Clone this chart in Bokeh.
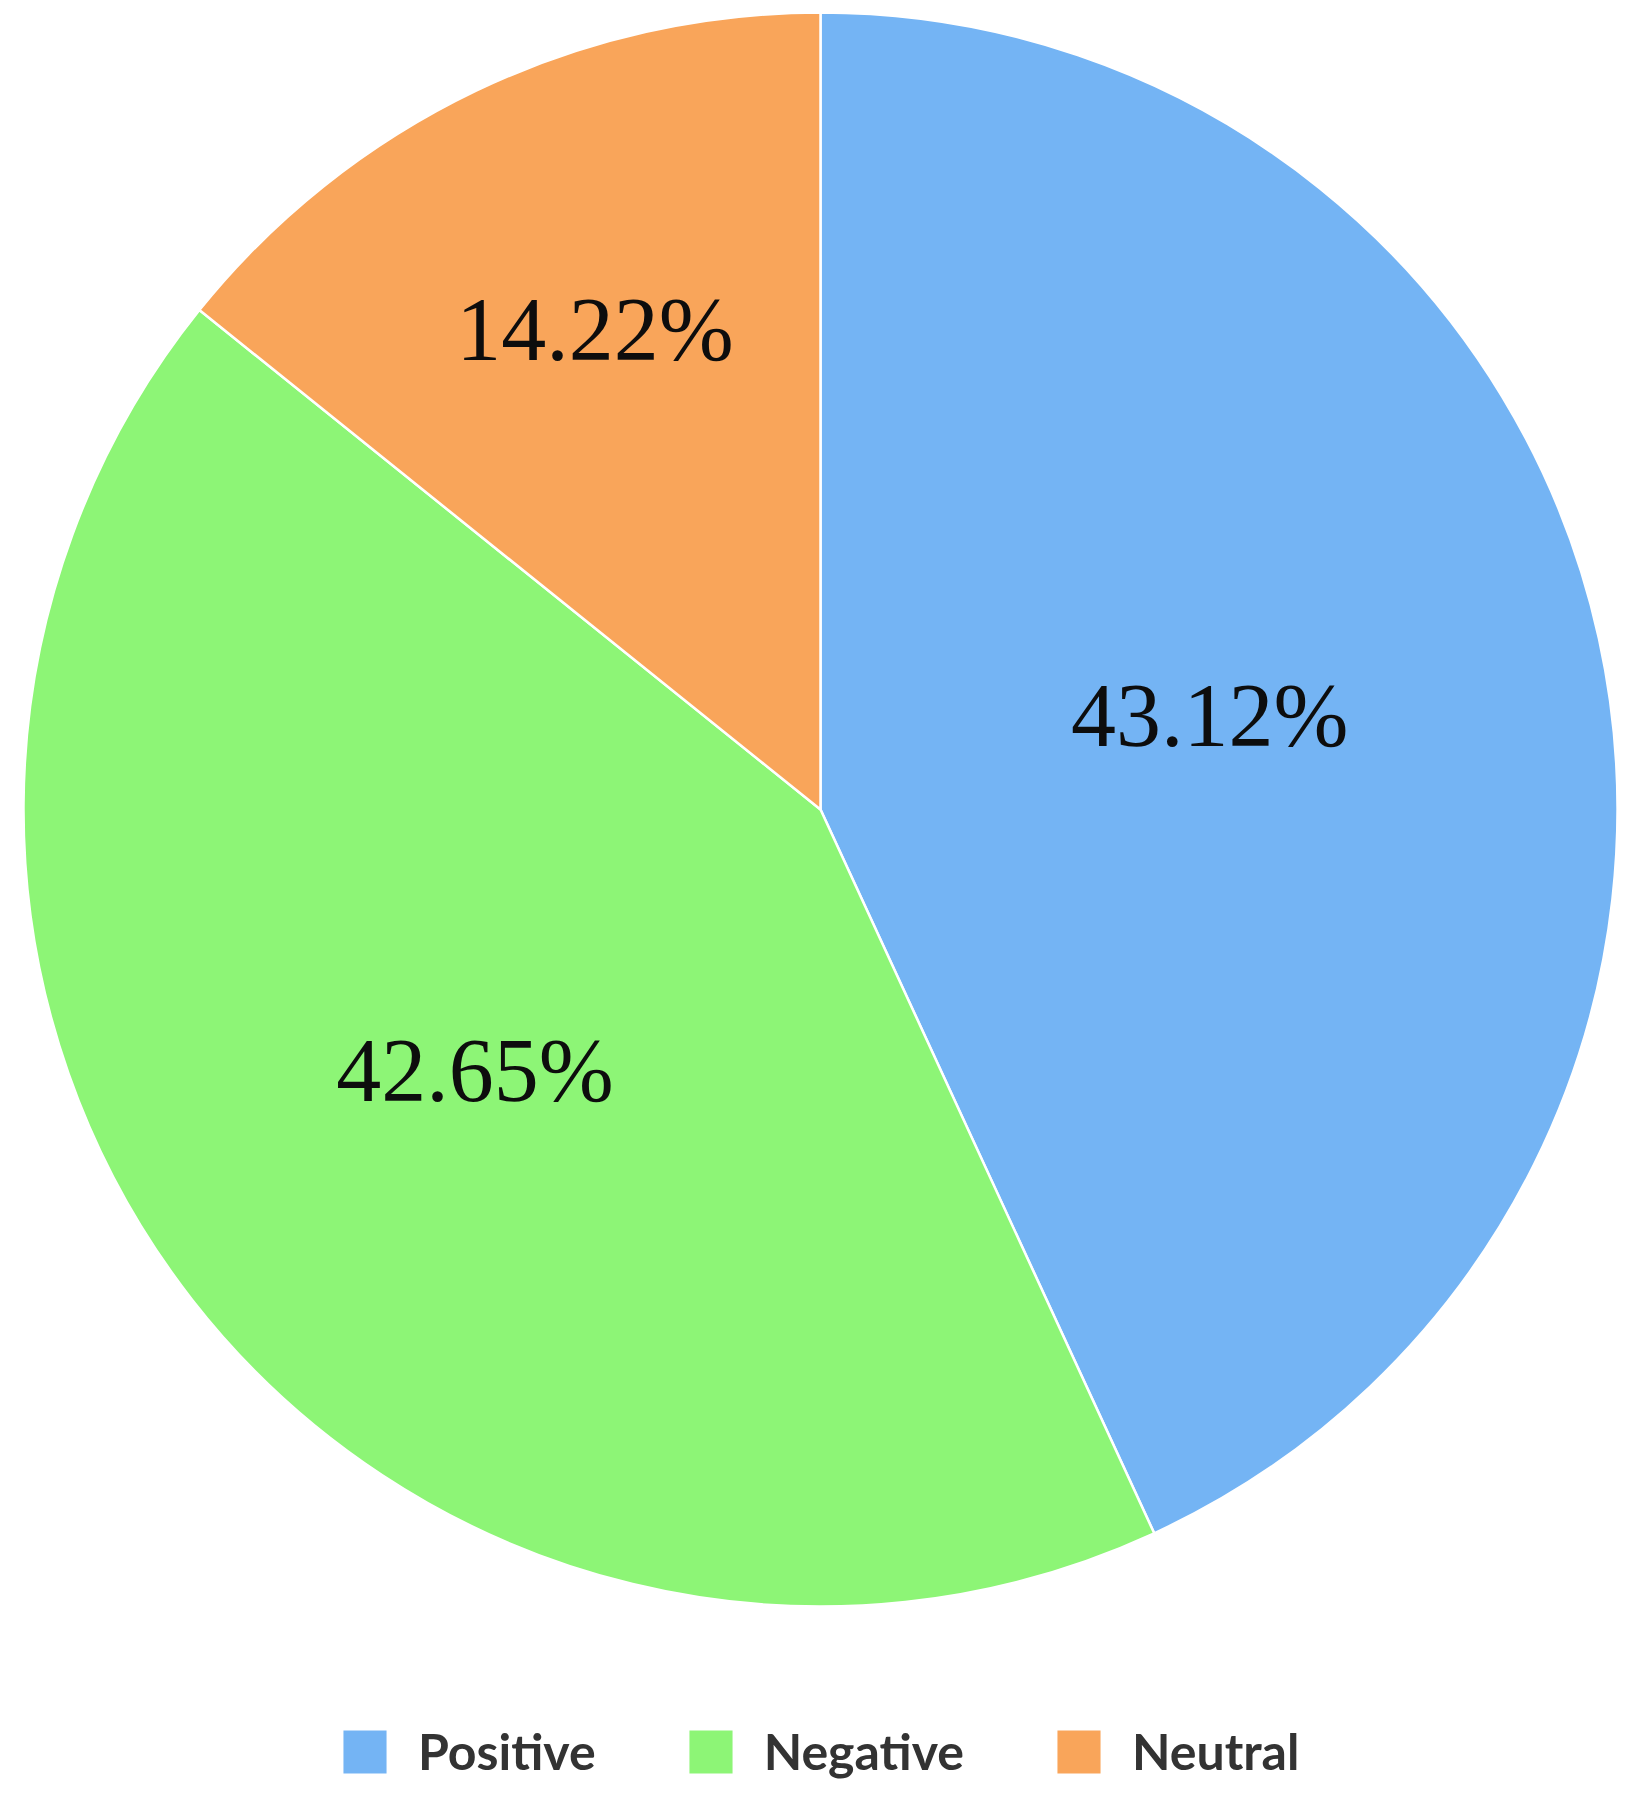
import math
from bokeh.plotting import figure
from bokeh.models import Range1d, ColumnDataSource, Legend, LegendItem
from bokeh.core.properties import value
from bokeh.embed import file_html
from bokeh.resources import INLINE

categories = ["Positive", "Negative", "Neutral"]
percents = [43.12, 42.65, 14.22]
colors = ["#74b4f4", "#8df576", "#f9a55a"]
label_texts = ["43.12%", "42.65%", "14.22%"]

W, H = 1630, 1800
p = figure(width=W, height=H, output_backend="svg", toolbar_location=None,
           x_range=Range1d(0, W), y_range=Range1d(0, H), min_border=0)
p.axis.visible = False
p.grid.visible = False
p.outline_line_color = None
p.background_fill_color = "white"

cx, cy, r = 820, H - 809, 797
label_frac = [0.50, 0.55, 0.655]

total = sum(percents)
starts, ends, lx, ly = [], [], [], []
cum = 0.0
for i, v in enumerate(percents):
    a0 = math.pi / 2 - 2 * math.pi * cum / total
    cum += v
    a1 = math.pi / 2 - 2 * math.pi * cum / total
    starts.append(a0)
    ends.append(a1)
    mid = (a0 + a1) / 2
    lx.append(cx + r * label_frac[i] * math.cos(mid))
    ly.append(cy + r * label_frac[i] * math.sin(mid))

src = ColumnDataSource(dict(cat=categories, start=starts, end=ends, color=colors,
                            x=[cx] * 3, y=[cy] * 3, lx=lx, ly=ly, txt=label_texts))
w = p.wedge(x="x", y="y", radius=r, start_angle="start", end_angle="end",
            direction="clock", fill_color="color", line_color="white",
            line_width=2.5, source=src)
p.text(x="lx", y="ly", text="txt", source=src, text_align="center",
       text_baseline="middle", text_font=value("Liberation Serif"),
       text_font_size="90px", text_color="#0d0d0d", y_offset=-9)

items = [LegendItem(label=c, renderers=[w], index=i) for i, c in enumerate(categories)]
legend = Legend(items=items, orientation="horizontal", location=(336, 19),
                glyph_width=57, glyph_height=57, label_standoff=25, spacing=86,
                padding=0, margin=0, border_line_color=None,
                background_fill_alpha=0, label_text_font="Lato",
                label_text_font_style="bold", label_text_font_size="50px",
                label_text_color="#333333", label_height=57)
p.add_layout(legend)

open("out.html", "w").write(file_html(p, INLINE))
